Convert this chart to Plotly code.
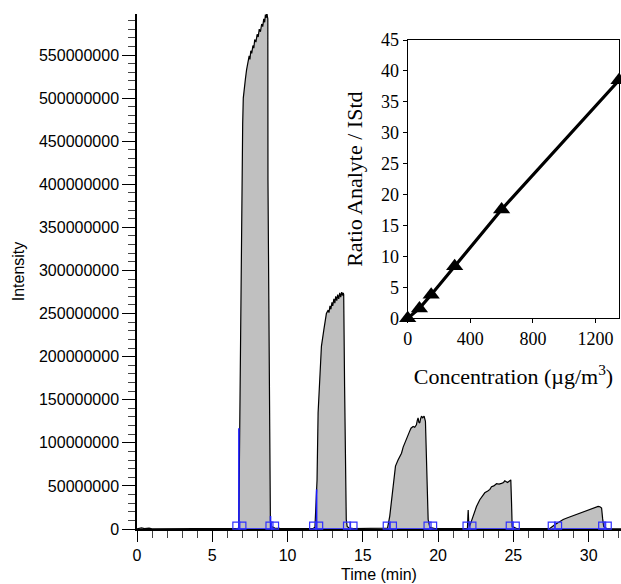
import numpy as np
import plotly.graph_objects as go

# ---------------- data ----------------
# chromatogram: time (min) and intensity (millions of counts)
time_min = [
    0.0, 0.3, 0.5, 0.8, 1.0, 2.0, 2.4, 2.6, 2.9, 3.1, 5.0, 6.5, 6.72,
    # peak 1
    6.76, 6.79, 6.83, 6.88, 6.93, 6.98, 7.02, 7.06, 7.12, 7.2, 7.28, 7.38, 7.45, 7.5,
    7.56, 7.62, 7.7, 7.76, 7.82, 7.9, 7.98, 8.05, 8.12, 8.2, 8.28, 8.35, 8.42, 8.48,
    8.53, 8.58, 8.62, 8.66, 8.69, 8.70, 8.76, 8.82, 8.86, 8.93, 9.15, 9.5,
    10.0, 11.0, 11.7,
    # peak 2
    11.82, 11.9, 11.96, 12.03, 12.14, 12.25, 12.41, 12.58, 12.7, 12.75, 12.82, 12.88,
    12.95, 13.0, 13.08, 13.14, 13.2, 13.27, 13.33, 13.4, 13.47, 13.53, 13.6, 13.65,
    13.7, 13.73, 13.79, 13.85, 13.9, 13.96, 14.1, 14.4,
    15.0, 16.5,
    # peak 3
    16.64, 16.79, 16.9, 17.01, 17.17, 17.34, 17.45, 17.57, 17.68, 17.79, 17.9, 18.01,
    18.1, 18.2, 18.34, 18.45, 18.56, 18.62, 18.67, 18.72, 18.78, 18.84, 18.9, 18.98,
    19.07, 19.16, 19.25, 19.34, 19.45, 19.78,
    20.5, 21.8,
    # peak 4
    21.95, 21.98, 22.0, 22.03, 22.08, 22.15, 22.33, 22.55, 22.77, 22.95, 23.1, 23.3,
    23.44, 23.55, 23.7, 23.88, 24.05, 24.21, 24.35, 24.43, 24.52, 24.61, 24.72, 24.83,
    24.88, 24.92, 25.21,
    26.0, 27.3,
    # peak 5
    27.42, 27.75, 28.0, 28.31, 28.6, 28.97, 29.3, 29.64, 30.0, 30.3, 30.5, 30.63,
    30.75, 30.86, 30.93, 31.0, 31.19,
    32.2,
]
intensity_millions = [
    0.3, 1.2, 0.4, 1.0, 0.3, 0.3, 1.0, 0.4, 1.1, 0.3, 0.3, 0.3, 0.8,
    # peak 1
    2, 60, 180, 285, 350, 405, 470, 500, 512, 522, 533, 544, 549, 545,
    555, 552, 561, 558, 568, 565, 574, 571, 580, 577, 586, 583, 592, 588,
    597, 593, 600, 595, 592, 405, 220, 37, 10, 3, 1, 0.8,
    0.8, 0.6, 0.6,
    # peak 2
    2, 30, 57, 135, 173, 212, 231, 250, 254, 251, 259, 255,
    263, 259, 267, 262, 270, 265, 272, 267, 274, 269, 275, 271,
    274, 272, 165, 57, 11, 3, 1, 0.6,
    0.5, 0.5,
    # peak 3
    1, 15, 34, 53, 73, 80, 84, 88, 95, 100, 106, 111,
    113, 117, 119, 118, 121, 126, 129, 124, 123, 128, 131, 129,
    131, 125, 68, 11, 2, 0.5,
    0.4, 0.4,
    # peak 4
    0.5, 15, 22, 10, 3, 6, 15, 26, 34, 38, 42, 44,
    46, 49, 50, 52.5, 52, 53, 54, 56, 55, 54, 55.5, 57,
    30, 3, 0.5,
    0.3, 0.3,
    # peak 5
    0.5, 5, 8, 11, 13, 15.4, 18, 20.4, 22.5, 24.3, 25.5, 26.2,
    25.8, 24.3, 12, 3, 0.5,
    0.3,
]

# integration markers (blue squares) at peak start / end
marker_times = [6.6, 7.0, 8.8, 9.17,
                11.7, 12.1, 13.95, 14.38,
                16.59, 17.0, 19.3, 19.67,
                21.89, 22.28, 24.76, 25.16,
                27.55, 27.97, 30.9, 31.27]
marker_level_millions = 4.0

# integration baselines (start, end) per peak
baseline_start = [6.6, 11.7, 16.59, 21.89, 27.55]
baseline_end = [9.17, 14.38, 19.67, 25.16, 31.27]

# blue vertical integration edges (time, height in millions)
edge_times = [6.77, 8.87, 11.93]
edge_heights = [117, 15, 46]

# calibration inset
conc = [0, 75, 150, 300, 600, 1350]
ratio = [0, 1.6, 3.8, 8.4, 17.6, 38.5]

# ---------------- figure ----------------
SCALE = 1e6
y = np.array(intensity_millions) * SCALE

fig = go.Figure()

fig.add_trace(go.Scatter(
    x=time_min, y=y, mode="lines", fill="tozeroy",
    fillcolor="#c0c0c0", line=dict(color="black", width=1.2),
    showlegend=False, hoverinfo="skip"))

# blue baselines
bx, by = [], []
for s, e in zip(baseline_start, baseline_end):
    bx += [s, e, None]
    by += [0, 0, None]
for t, h in zip(edge_times, edge_heights):
    bx += [t, t, None]
    by += [0, h * SCALE, None]
fig.add_trace(go.Scatter(
    x=bx, y=by, mode="lines", line=dict(color="#1a1aff", width=1.6),
    showlegend=False, hoverinfo="skip"))

fig.add_trace(go.Scatter(
    x=marker_times, y=[marker_level_millions * SCALE] * len(marker_times),
    mode="markers", cliponaxis=False,
    marker=dict(symbol="square-open", size=7, color="#2f2fff",
                line=dict(color="#2f2fff", width=1.2)),
    showlegend=False, hoverinfo="skip"))

# inset calibration
fig.add_trace(go.Scatter(
    x=conc, y=ratio, mode="lines+markers", xaxis="x2", yaxis="y2",
    cliponaxis=False,
    line=dict(color="black", width=3.2),
    marker=dict(symbol="triangle-up", size=15, color="black"),
    showlegend=False, hoverinfo="skip"))

sans = "Liberation Sans, Arial, sans-serif"
serif = "Liberation Serif, Times New Roman, serif"

fig.update_layout(
    width=621, height=584,
    margin=dict(l=137, r=0, t=14, b=55),
    paper_bgcolor="white", plot_bgcolor="white",
    font=dict(family=sans, size=16, color="black"),
    xaxis=dict(
        range=[0, 32.15], tickmode="linear", tick0=0, dtick=5,
        ticks="outside", ticklen=11, tickwidth=1, tickcolor="black",
        minor=dict(dtick=1, ticklen=7, tickwidth=1.3, tickcolor="#444", ticks="outside"),
        showline=True, linecolor="black", linewidth=1.5,
        showgrid=False, zeroline=False, layer="below traces",
        tickfont=dict(family=sans, size=16),
        title=dict(text="Time (min)", font=dict(family=sans, size=16), standoff=6),
        automargin=False,
    ),
    yaxis=dict(
        range=[0, 597.6e6], tickmode="linear", tick0=0, dtick=50e6,
        tickformat="d",
        ticks="outside", ticklen=13, tickwidth=1, tickcolor="black",
        minor=dict(dtick=10e6, ticklen=7, tickwidth=1.3, tickcolor="#444", ticks="outside"),
        showline=True, linecolor="black", linewidth=1.5,
        showgrid=False, zeroline=False,
        tickfont=dict(family=sans, size=16),
        title=dict(text="Intensity", font=dict(family=sans, size=16), standoff=10),
        automargin=False,
    ),
    xaxis2=dict(
        domain=[0.5593, 0.9965], anchor="y2", range=[0, 1352],
        tickvals=[0, 400, 800, 1200],
        ticks="outside", ticklen=4, tickcolor="black",
        showline=True, mirror=True, linecolor="black", linewidth=1.2,
        showgrid=False, zeroline=False,
        tickfont=dict(family=serif, size=18),
        title=dict(text="Concentration (µg/m<sup>3</sup>)", font=dict(family=serif, size=22), standoff=20),
        automargin=False,
    ),
    yaxis2=dict(
        domain=[0.4091, 0.9495], anchor="x2", range=[0, 45],
        tickmode="linear", tick0=0, dtick=5,
        ticks="outside", ticklen=4, tickcolor="black",
        showline=True, mirror=True, linecolor="black", linewidth=1.2,
        showgrid=False, zeroline=False,
        tickfont=dict(family=serif, size=18),
        title=dict(text="Ratio Analyte / IStd", font=dict(family=serif, size=22), standoff=12),
        automargin=False,
    ),
)

fig.write_html("out.html",
               config={"displayModeBar": False},
               post_script="document.body.style.margin='0';document.body.style.overflow='hidden';")
